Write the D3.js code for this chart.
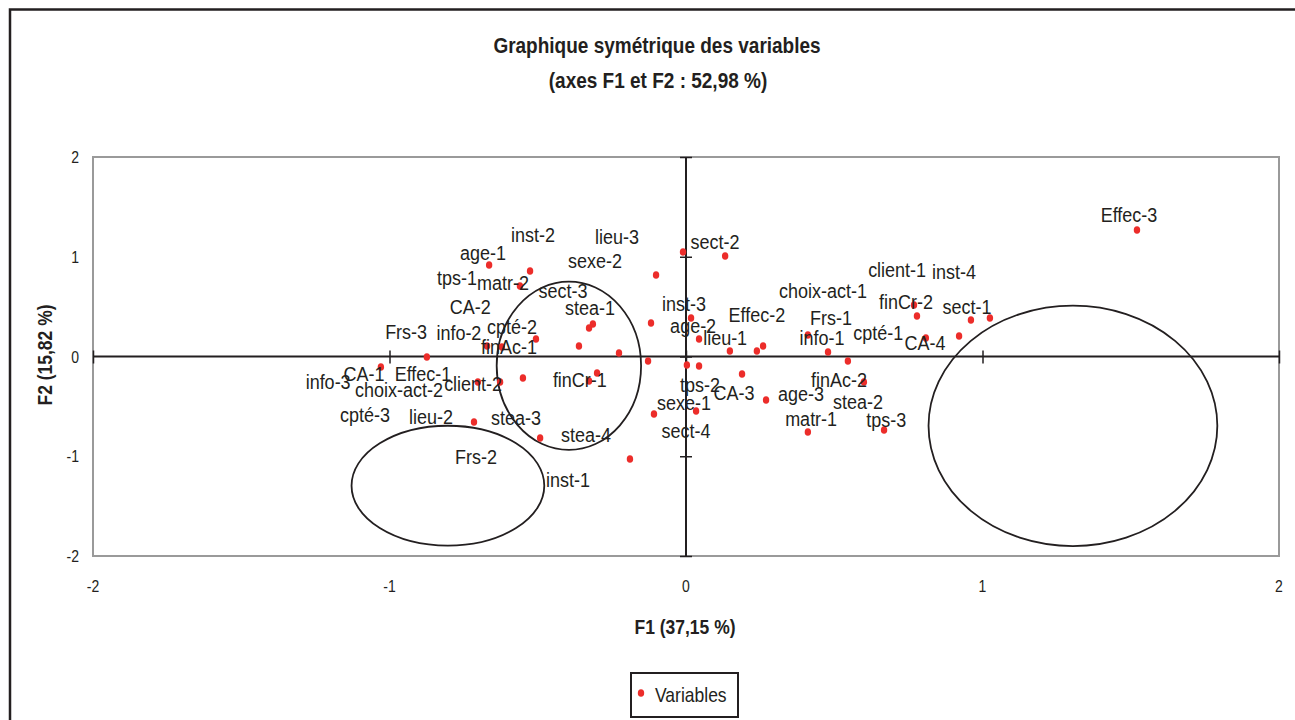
<!DOCTYPE html>
<html>
<head>
<meta charset="utf-8">
<script src="https://cdn.jsdelivr.net/npm/d3@7"></script>
<style>
  body { margin: 0; background: #fff; }
  text { font-family: "Liberation Sans", Arial, sans-serif; fill: #231f20; }
</style>
</head>
<body>
<div id="main"></div>
<script>
// coordonnees des modalites sur F1 / F2
const varNames = ["age-1","inst-2","matr-2","sexe-2","lieu-3","sect-2","stea-1","sect-3","inst-3","tps-1",
  "CA-2","Frs-3","info-2","cpté-2","finAc-1","age-2","CA-1","Effec-1","info-3","choix-act-2",
  "client-2","finCr-1","cpté-3","lieu-2","stea-3","stea-4","Frs-2","inst-1","client-1","inst-4",
  "choix-act-1","finCr-2","sect-1","Effec-2","Frs-1","lieu-1","info-1","cpté-1","CA-4","finAc-2",
  "tps-2","CA-3","age-3","stea-2","sexe-1","matr-1","tps-3","sect-4","Effec-3"];
const f1 = [-0.664,-0.526,-0.560,-0.101,-0.010,0.132,-0.314,-0.327,0.017,-0.118,
  -0.361,-0.874,-0.671,-0.506,-0.621,0.044,-1.029,-0.627,-0.550,-0.226,
  -0.702,-0.300,-0.327,-0.715,-0.128,-0.492,-0.108,-0.189,0.769,0.961,
  0.411,0.779,1.025,0.260,0.479,0.148,0.239,0.809,0.921,0.600,
  0.044,0.189,0.270,0.546,0.034,0.411,0.668,0.003,1.521];
const f2 = [0.917,0.857,0.707,0.817,1.048,1.008,0.326,0.286,0.386,0.336,
  0.105,-0.005,0.105,0.175,0.095,0.175,-0.105,-0.256,-0.216,0.035,
  -0.256,-0.165,-0.246,-0.657,-0.045,-0.817,-0.576,-1.028,0.516,0.366,
  0.216,0.406,0.386,0.105,0.045,0.055,0.055,0.185,0.206,-0.256,
  -0.095,-0.175,-0.436,-0.045,-0.546,-0.757,-0.737,-0.085,1.268];
// ou sont posees les etiquettes (dans le repere F1/F2)
const labelF1 = [-0.685,-0.516,-0.617,-0.307,-0.233,0.098,-0.324,-0.415,-0.007,-0.772,
  -0.728,-0.944,-0.766,-0.587,-0.597,0.024,-1.086,-0.887,-1.207,-0.968,
  -0.718,-0.358,-1.083,-0.860,-0.573,-0.337,-0.708,-0.398,0.712,0.904,
  0.462,0.742,0.948,0.239,0.489,0.132,0.459,0.648,0.806,0.516,
  0.047,0.162,0.388,0.580,-0.007,0.422,0.675,0.000,1.494];
const labelF2 = [1.038,1.218,0.737,0.957,1.198,1.148,0.486,0.657,0.526,0.787,
  0.496,0.246,0.236,0.296,0.095,0.306,-0.175,-0.175,-0.256,-0.336,
  -0.276,-0.236,-0.586,-0.607,-0.617,-0.787,-1.008,-1.238,0.867,0.847,
  0.657,0.546,0.496,0.416,0.386,0.185,0.185,0.236,0.135,-0.236,
  -0.286,-0.366,-0.376,-0.456,-0.466,-0.627,-0.637,-0.747,1.419];
// groupes entoures
const ellipseCx = [-0.395, -0.803, 1.305];
const ellipseCy = [-0.093, -1.295, -0.695];
const ellipseRx = [0.2435, 0.325, 0.487];
const ellipseRy = [0.844, 0.601, 1.205];

const tickValues = [-2, -1, 0, 1, 2];

const w = 1295, h = 720;
const stretch = 1.13;   // texte un peu etire en hauteur

const svg = d3.select("#main").append("svg")
  .attr("width", w).attr("height", h);

// cadre exterieur
svg.append("rect")
  .attr("x", 10).attr("y", 9.5)
  .attr("width", w + 20).attr("height", h + 20)
  .attr("fill", "none").attr("stroke", "#231f20").attr("stroke-width", 2.5);

const xScale = d3.scaleLinear().domain([-2, 2]).range([93, 1279]);
const yScale = d3.scaleLinear().domain([-2, 2]).range([556, 157]);

function putText(sel, x, y) {
  return sel.attr("transform", "translate(" + x + "," + y + ") scale(1," + stretch + ")");
}

// titre
putText(svg.append("text"), 657, 53)
  .attr("text-anchor", "middle").style("font-size", "19px").style("font-weight", "bold")
  .text("Graphique symétrique des variables");
putText(svg.append("text"), 658, 88)
  .attr("text-anchor", "middle").style("font-size", "19px").style("font-weight", "bold")
  .text("(axes F1 et F2 : 52,98 %)");

// zone du graphique
svg.append("rect")
  .attr("x", xScale(-2)).attr("y", yScale(2))
  .attr("width", xScale(2) - xScale(-2)).attr("height", yScale(-2) - yScale(2))
  .attr("fill", "none").attr("stroke", "#9a9a9a").attr("stroke-width", 2);

// axes passant par l'origine
svg.append("line")
  .attr("x1", xScale(-2)).attr("x2", xScale(2))
  .attr("y1", yScale(0)).attr("y2", yScale(0))
  .attr("stroke", "#231f20").attr("stroke-width", 2);
svg.append("line")
  .attr("x1", xScale(0)).attr("x2", xScale(0))
  .attr("y1", yScale(-2)).attr("y2", yScale(2))
  .attr("stroke", "#231f20").attr("stroke-width", 2);

const xTicks = svg.append("g")
  .attr("transform", "translate(0," + (yScale(0) - 6) + ")")
  .call(d3.axisBottom(xScale).tickValues(tickValues).tickSize(13).tickSizeOuter(0).tickFormat(""));
const yTicks = svg.append("g")
  .attr("transform", "translate(" + (xScale(0) + 6) + ",0)")
  .call(d3.axisLeft(yScale).tickValues(tickValues).tickSize(12).tickSizeOuter(0).tickFormat(""));
[xTicks, yTicks].forEach(g => {
  g.select(".domain").remove();
  g.selectAll("line").attr("stroke", "#231f20").attr("stroke-width", 1.5);
});

// libelles des graduations
tickValues.forEach(v => {
  putText(svg.append("text"), xScale(v), 592)
    .attr("text-anchor", "middle").style("font-size", "14px").text(String(v));
  putText(svg.append("text"), 79, yScale(v) + 6)
    .attr("text-anchor", "end").style("font-size", "14px").text(String(v));
});

// titres des axes
putText(svg.append("text"), 685, 634)
  .attr("text-anchor", "middle").style("font-size", "17.5px").style("font-weight", "bold")
  .text("F1 (37,15 %)");
svg.append("text")
  .attr("transform", "translate(52,355) rotate(-90) scale(1," + stretch + ")")
  .attr("text-anchor", "middle").style("font-size", "17.5px").style("font-weight", "bold")
  .text("F2 (15,82 %)");

// ellipses
svg.selectAll("ellipse.groupe")
  .data(ellipseCx)
  .enter()
  .append("ellipse")
  .attr("class", "groupe")
  .attr("cx", d => xScale(d))
  .attr("cy", (d, i) => yScale(ellipseCy[i]))
  .attr("rx", (d, i) => xScale(ellipseRx[i]) - xScale(0))
  .attr("ry", (d, i) => yScale(0) - yScale(ellipseRy[i]))
  .attr("fill", "none").attr("stroke", "#231f20").attr("stroke-width", 1.8);

// points
svg.selectAll("ellipse.pt")
  .data(varNames)
  .enter()
  .append("ellipse")
  .attr("class", "pt")
  .attr("cx", (d, i) => xScale(f1[i]))
  .attr("cy", (d, i) => yScale(f2[i]))
  .attr("rx", 3.2).attr("ry", 3.8)
  .attr("fill", "#ec2d2a");

// etiquettes
svg.selectAll("text.lab")
  .data(varNames)
  .enter()
  .append("text")
  .attr("class", "lab")
  .attr("transform", (d, i) => "translate(" + xScale(labelF1[i]) + "," + (yScale(labelF2[i]) + 7) + ") scale(1," + stretch + ")")
  .attr("text-anchor", "middle")
  .style("font-size", "18px")
  .text(d => d);

// legende
svg.append("rect")
  .attr("x", 631).attr("y", 673).attr("width", 107).attr("height", 44)
  .attr("fill", "#fff").attr("stroke", "#231f20").attr("stroke-width", 2);
svg.append("ellipse")
  .attr("cx", 641).attr("cy", 693).attr("rx", 3.2).attr("ry", 3.8)
  .attr("fill", "#ec2d2a");
putText(svg.append("text"), 655, 702)
  .style("font-size", "17.5px").text("Variables");
</script>
</body>
</html>
